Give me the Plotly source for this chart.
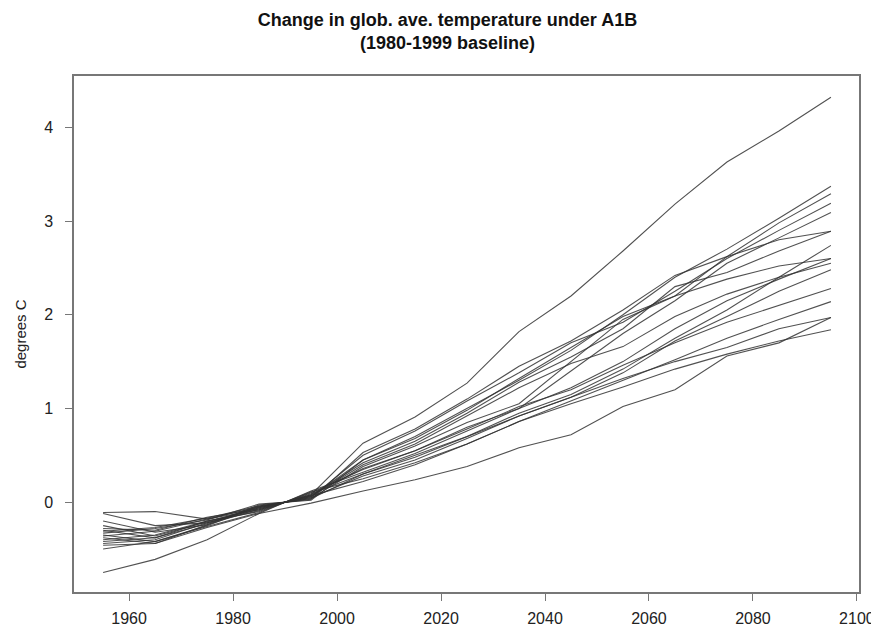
import plotly.graph_objects as go

years = [1955, 1965, 1975, 1985, 1995, 2005, 2015, 2025, 2035, 2045, 2055, 2065, 2075, 2085, 2095]

model_01 = [-0.30, -0.38, -0.20, -0.08, 0.08, 0.63, 0.91, 1.27, 1.82, 2.20, 2.68, 3.18, 3.63, 3.96, 4.32]
model_02 = [-0.12, -0.25, -0.22, -0.06, 0.06, 0.45, 0.70, 1.00, 1.30, 1.62, 2.00, 2.40, 2.70, 3.03, 3.37]
model_03 = [-0.35, -0.42, -0.25, -0.04, 0.04, 0.38, 0.60, 0.85, 1.05, 1.50, 1.95, 2.20, 2.62, 2.98, 3.29]
model_04 = [-0.11, -0.10, -0.18, -0.05, 0.05, 0.50, 0.76, 1.08, 1.38, 1.70, 1.92, 2.25, 2.60, 2.90, 3.19]
model_05 = [-0.40, -0.35, -0.20, -0.10, 0.10, 0.35, 0.55, 0.80, 1.00, 1.40, 1.80, 2.15, 2.55, 2.82, 3.09]
model_06 = [-0.28, -0.30, -0.16, -0.07, 0.07, 0.42, 0.65, 0.95, 1.28, 1.55, 1.85, 2.30, 2.45, 2.68, 2.89]
model_07 = [-0.20, -0.32, -0.24, -0.03, 0.03, 0.53, 0.78, 1.10, 1.45, 1.72, 2.05, 2.42, 2.62, 2.80, 2.89]
model_08 = [-0.44, -0.40, -0.22, -0.09, 0.09, 0.30, 0.50, 0.70, 0.95, 1.15, 1.42, 1.75, 2.05, 2.40, 2.74]
model_09 = [-0.33, -0.28, -0.19, -0.02, 0.02, 0.45, 0.68, 0.98, 1.32, 1.65, 1.98, 2.20, 2.38, 2.52, 2.60]
model_10 = [-0.38, -0.44, -0.27, -0.12, 0.12, 0.32, 0.52, 0.76, 1.00, 1.22, 1.50, 1.85, 2.15, 2.38, 2.60]
model_11 = [-0.25, -0.36, -0.21, -0.06, 0.06, 0.40, 0.62, 0.92, 1.22, 1.48, 1.66, 1.98, 2.22, 2.40, 2.55]
model_12 = [-0.42, -0.38, -0.23, -0.05, 0.05, 0.28, 0.45, 0.68, 0.92, 1.12, 1.38, 1.72, 1.98, 2.25, 2.48]
model_13 = [-0.36, -0.31, -0.18, -0.08, 0.08, 0.36, 0.55, 0.78, 1.02, 1.20, 1.46, 1.70, 1.92, 2.10, 2.28]
model_14 = [-0.50, -0.42, -0.26, -0.11, 0.11, 0.25, 0.42, 0.62, 0.86, 1.08, 1.30, 1.52, 1.75, 1.95, 2.14]
model_15 = [-0.31, -0.27, -0.17, -0.04, 0.04, 0.30, 0.48, 0.70, 0.92, 1.12, 1.32, 1.50, 1.65, 1.85, 1.97]
model_16 = [-0.75, -0.61, -0.40, -0.12, -0.01, 0.12, 0.24, 0.38, 0.58, 0.72, 1.02, 1.20, 1.56, 1.70, 1.97]
model_17 = [-0.46, -0.44, -0.24, -0.07, 0.07, 0.22, 0.40, 0.62, 0.86, 1.05, 1.23, 1.42, 1.58, 1.72, 1.84]

models = [model_01, model_02, model_03, model_04, model_05, model_06, model_07, model_08,
          model_09, model_10, model_11, model_12, model_13, model_14, model_15, model_16, model_17]

x_ticks = [1960, 1980, 2000, 2020, 2040, 2060, 2080, 2100]
y_ticks = [0, 1, 2, 3, 4]

FONT = "Liberation Sans, Arial, sans-serif"

fig = go.Figure()
for i, m in enumerate(models):
    fig.add_trace(go.Scatter(
        x=years, y=m, mode="lines", name=f"model {i+1}",
        line=dict(color="rgba(50,50,50,0.85)", width=1.1),
        showlegend=False, hoverinfo="x+y",
    ))

axis_common = dict(
    showline=True, linecolor="#777777", linewidth=1.5, mirror=True,
    ticks="outside", ticklen=7, tickwidth=1.2, tickcolor="#777777",
    showgrid=False, zeroline=False,
    tickfont=dict(family=FONT, size=16, color="#222222"),
)

fig.update_xaxes(range=[1949.4, 2100.4], tickvals=x_ticks, ticklabelstandoff=4, **axis_common)
fig.update_yaxes(range=[-0.958, 4.547], tickvals=y_ticks, ticklabelstandoff=9,
                 title=dict(text="degrees C", standoff=14,
                            font=dict(family=FONT, size=15, color="#222222")),
                 **axis_common)

fig.update_layout(
    width=879, height=631,
    margin=dict(l=65, r=28, t=68, b=40),
    paper_bgcolor="white", plot_bgcolor="white",
    title=dict(
        text="<b>Change in glob. ave. temperature under A1B<br>(1980-1999 baseline)</b>",
        x=0.5, xref="container", xanchor="center",
        y=0.972, yref="container", yanchor="middle",
        font=dict(family=FONT, size=18, color="#111111"),
    ),
)

fig.write_html("out.html")
